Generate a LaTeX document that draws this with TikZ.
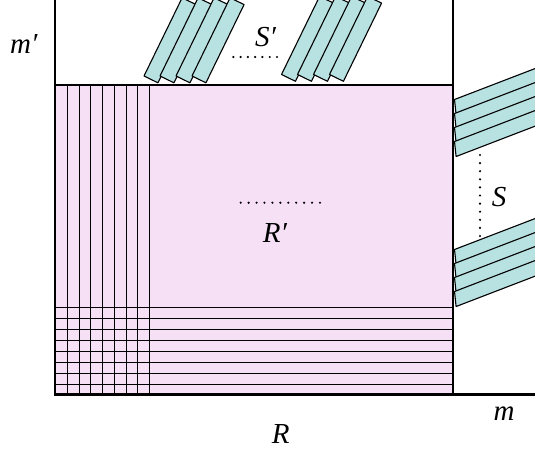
\documentclass[tikz,border=0pt]{standalone}
\usepackage{fontspec}
\setmainfont{Liberation Serif}
\usepackage{tikz}
\usetikzlibrary{calc}
\definecolor{slabfill}{RGB}{184,225,226}
\definecolor{fieldfill}{RGB}{245,224,245}
\tikzset{
  slab/.style={fill=slabfill,draw=black,line width=1.1pt,line join=round},
  gridline/.style={black,line width=0.9pt},
  frame/.style={black,line width=2.2pt},
  dotline/.style={line width=2.4pt,line cap=round,dash pattern=on 0pt off #1},
  lbl/.style={inner sep=0pt,font=\fontsize{29}{32}\selectfont\itshape}
}

\begin{document}
\begin{tikzpicture}[x=1pt,y=-1pt]
\useasboundingbox (0,0) rectangle (535,453);
\clip (0,0) rectangle (535,453);
% the field R'
\fill[fieldfill] (55,85) rectangle (453,394);
\foreach \i in {0,...,7}
  \draw[gridline] (67.5+11.7*\i,85) -- (67.5+11.7*\i,394);
\foreach \j in {0,...,7}
  \draw[gridline] (55,307.3+11*\j) -- (453,307.3+11*\j);
% frame
\draw[frame] (55,0) -- (55,394.5) -- (535,394.5);
\draw[frame] (453,0) -- (453,394.5);
\draw[line width=1.8pt] (55,85) -- (453,85);
% slabs S' on top
\foreach \x/\y in {144/76,281.5/74.5}
  \foreach \k in {0,...,3}
    \draw[slab,shift={(\x+16*\k,\y)},rotate=64] (0,0) rectangle (87,15.5);
% slabs S on the right
\foreach \y in {99.5,249.5}
  \foreach \k in {0,...,3}
    \draw[slab] (454.5,\y+14*\k) -- ++(81.2,-31.2) -- ++(1.6,15) -- ++(-81.2,31.2) -- cycle;
% dots
\draw[dotline=7.28pt] (233.3,57) -- (277,57);
\draw[dotline=7.93pt] (240.7,202.7) -- (320,202.7);
\draw[dotline=8.1pt] (480,155) -- (480,236);
% labels
\node[lbl,anchor=base west] (mprime) at (10,53.3) {m′};
\node[lbl,anchor=base west] (sprime) at (255,46.7) {S′};
\node[lbl,anchor=base west] (rprime) at (262.7,242.7) {R′};
\node[lbl,anchor=base west] (slbl) at (491.7,206.7) {S};
\node[lbl,anchor=base west] (mlbl) at (493.3,420) {m};
\node[lbl,anchor=base west] (rlbl) at (271.7,443.3) {R};
\end{tikzpicture}
\end{document}
